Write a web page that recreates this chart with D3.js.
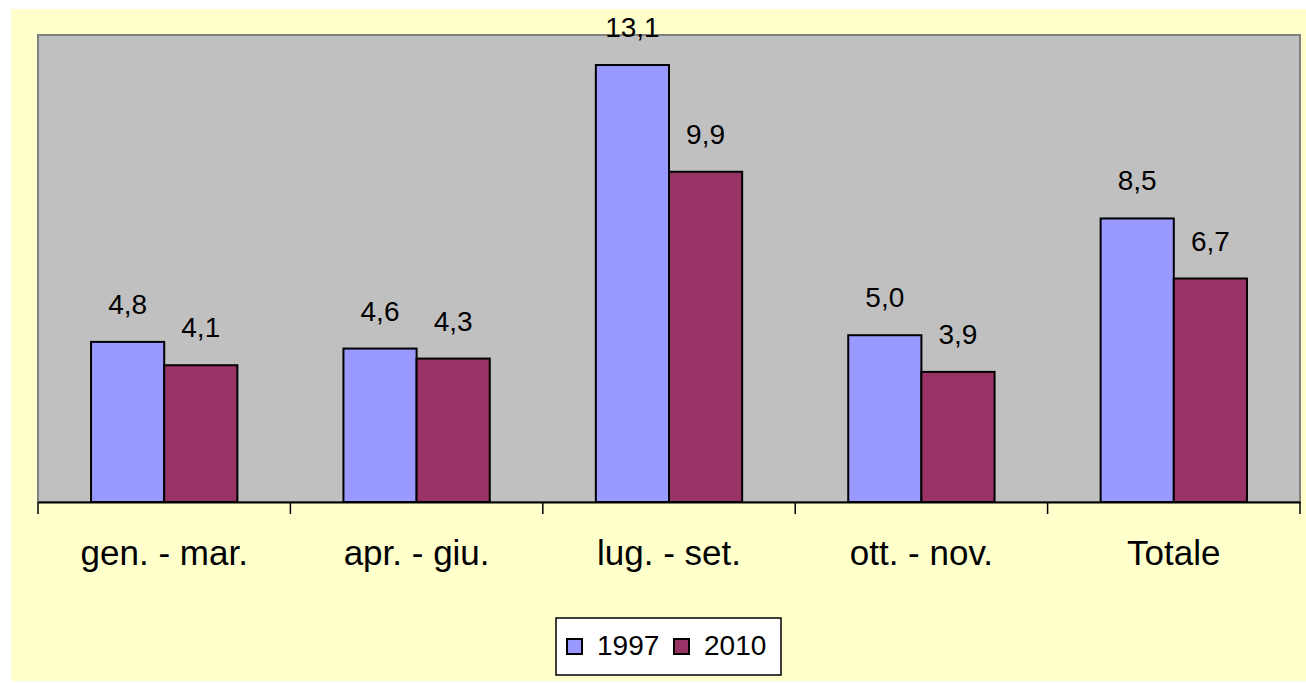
<!DOCTYPE html>
<html>
<head>
<meta charset="utf-8">
<script src="https://cdn.jsdelivr.net/npm/d3@7"></script>
<style>
  body { margin: 0; background: #fff; }
  svg { display: block; font-family: "Liberation Sans", Arial, sans-serif; }
</style>
</head>
<body>
<svg id="chart" width="1306" height="683"></svg>
<script>
// data
const categories = ['gen. - mar.', 'apr. - giu.', 'lug. - set.', 'ott. - nov.', 'Totale'];
const seriesNames = ['1997', '2010'];
const values1997 = [4.8, 4.6, 13.1, 5.0, 8.5];
const values2010 = [4.1, 4.3, 9.9, 3.9, 6.7];
const colors = ['#9999FF', '#993366'];

const svg = d3.select('#chart');
const it = d3.formatLocale({ decimal: ',', thousands: '.', grouping: [3], currency: ['€', ''] });
const fmt = it.format('.1f');

// yellow chart area
svg.append('rect')
    .attr('x', 11).attr('y', 9)
    .attr('width', 1295).attr('height', 672)
    .attr('fill', '#FFFFCC');

let plotLeft = 38, plotRight = 1300, plotTop = 35, plotBottom = 502;

let x = d3.scaleBand()
    .domain(categories)
    .range([plotLeft, plotRight])
    .paddingInner(0)
    .paddingOuter(0);
let inner = d3.scaleBand()
    .domain(seriesNames)
    .range([0, x.bandwidth()])
    .paddingOuter(0.725)
    .paddingInner(0);
let y = d3.scaleLinear().domain([0, 14]).range([plotBottom, plotTop]);

// plot area
svg.append('rect')
    .attr('x', plotLeft).attr('y', plotTop)
    .attr('width', plotRight - plotLeft).attr('height', plotBottom - plotTop)
    .attr('fill', '#C0C0C0')
    .attr('stroke', '#808080')
    .attr('stroke-width', 2);

let rows = categories.map(function (c, i) {
    return { cat: c, vals: [values1997[i], values2010[i]] };
});

let groups = svg.selectAll('g.grp')
    .data(rows)
    .enter()
    .append('g')
    .attr('class', 'grp')
    .attr('transform', function (d) { return 'translate(' + x(d.cat) + ',0)'; });

groups.selectAll('rect')
    .data(function (d) { return d.vals.map(function (v, j) { return { s: seriesNames[j], v: v, j: j }; }); })
    .enter()
    .append('rect')
    .attr('x', function (d) { return inner(d.s); })
    .attr('y', function (d) { return y(d.v); })
    .attr('width', inner.bandwidth())
    .attr('height', function (d) { return plotBottom - y(d.v); })
    .attr('fill', function (d) { return colors[d.j]; })
    .attr('stroke', '#000')
    .attr('stroke-width', 2);

groups.selectAll('text')
    .data(function (d) { return d.vals.map(function (v, j) { return { s: seriesNames[j], v: v }; }); })
    .enter()
    .append('text')
    .attr('x', function (d) { return inner(d.s) + inner.bandwidth() / 2; })
    .attr('y', function (d) { return y(d.v) - 28; })
    .attr('text-anchor', 'middle')
    .attr('font-size', 28)
    .attr('fill', '#000')
    .text(function (d) { return fmt(d.v); });

// x axis
let axis = svg.append('g')
    .attr('transform', 'translate(0,' + plotBottom + ')')
    .call(d3.axisBottom(x).tickSize(0));
axis.select('.domain').attr('stroke', '#000').attr('stroke-width', 2);
axis.selectAll('.tick text')
    .attr('y', 63)
    .attr('dy', null)
    .attr('font-size', 35)
    .attr('font-family', '"Liberation Sans", Arial, sans-serif')
    .attr('fill', '#000');
// tick marks on category borders
axis.selectAll('line.edge')
    .data(categories.concat(['end']))
    .enter()
    .append('line')
    .attr('class', 'edge')
    .attr('x1', function (d) { return d === 'end' ? plotRight : x(d); })
    .attr('x2', function (d) { return d === 'end' ? plotRight : x(d); })
    .attr('y1', 0).attr('y2', 12)
    .attr('stroke', '#000')
    .attr('stroke-width', 1.5);

// legend
let legend = svg.append('g').attr('transform', 'translate(556,618)');
legend.append('rect')
    .attr('width', 225).attr('height', 57)
    .attr('fill', '#fff')
    .attr('stroke', '#000')
    .attr('stroke-width', 1.5);
let items = legend.selectAll('g.item')
    .data(seriesNames)
    .enter()
    .append('g')
    .attr('class', 'item')
    .attr('transform', function (d, i) { return 'translate(' + (11 + i * 107) + ',0)'; });
items.append('rect')
    .attr('x', 0).attr('y', 21)
    .attr('width', 15).attr('height', 15)
    .attr('fill', function (d, i) { return colors[i]; })
    .attr('stroke', '#000')
    .attr('stroke-width', 2);
items.append('text')
    .attr('x', 30).attr('y', 37)
    .attr('font-size', 28)
    .attr('fill', '#000')
    .text(function (d) { return d; });
</script>
</body>
</html>
